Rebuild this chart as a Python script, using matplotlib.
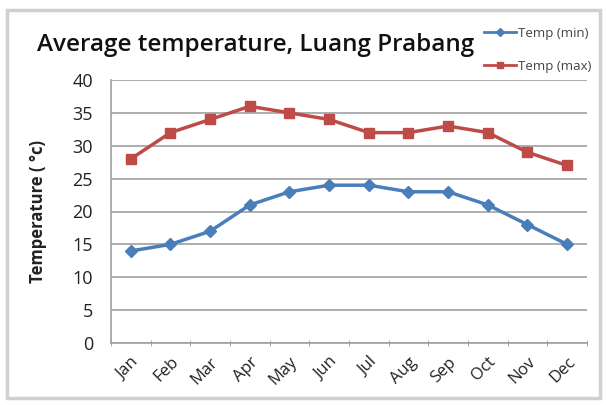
import matplotlib
matplotlib.use("Agg")
import matplotlib.pyplot as plt
from matplotlib.patches import Rectangle
from matplotlib.lines import Line2D

months = ["Jan", "Feb", "Mar", "Apr", "May", "Jun", "Jul", "Aug", "Sep", "Oct", "Nov", "Dec"]
temp_min = [14, 15, 17, 21, 23, 24, 24, 23, 23, 21, 18, 15]
temp_max = [28, 32, 34, 36, 35, 34, 32, 32, 33, 32, 29, 27]
yticks = [0, 5, 10, 15, 20, 25, 30, 35, 40]

plt.rcParams['font.family'] = ['Open Sans', 'DejaVu Sans']

fig = plt.figure(figsize=(6.06, 4.05), dpi=100)
fig.patch.set_facecolor("white")

# outer chart border
fig.patches.append(Rectangle((7/606, 1-398/405), (600-7)/606, (398-10)/405,
                             transform=fig.transFigure, fill=False,
                             edgecolor="#d0d0d0", linewidth=2.5))

ax = fig.add_axes([111/606, 1-343/405, (587-111)/606, (343-80)/405])
x = list(range(len(months)))
blue = "#4a7ebb"
red = "#be4b48"
ax.plot(x, temp_min, color=blue, lw=2.5, marker="D", ms=6, label="Temp (min)", zorder=3)
ax.plot(x, temp_max, color=red, lw=2.5, marker="s", ms=7.5, label="Temp (max)", zorder=3)

ax.set_xlim(-0.5, len(months) - 0.5)
ax.set_ylim(0, 40)
ax.set_yticks(yticks)
ax.set_yticklabels([str(v) for v in yticks], fontsize=13, color="#222222")
ax.set_xticks(x)
ax.set_xticklabels(months, rotation=45, ha="right", rotation_mode="anchor", fontsize=12, color="#222222")
ax.tick_params(axis="x", which="major", length=0, pad=8)
ax.set_xticks([i - 0.5 for i in range(len(months) + 1)], minor=True)
ax.tick_params(axis="x", which="minor", length=5, color="#999999", direction="inout")
ax.tick_params(axis="y", length=0, pad=13)

ax.grid(axis="y", color="#a0a0a0", lw=1.2)
ax.set_axisbelow(True)
for s in ["top", "right"]:
    ax.spines[s].set_visible(False)
for s in ["left", "bottom"]:
    ax.spines[s].set_color("#a0a0a0")
    ax.spines[s].set_linewidth(1.2)

ax.set_ylabel("Temperature ( °c)", fontsize=12, fontweight="bold", color="#222222", labelpad=18)

fig.text(37/606, 1-45/405, "Average temperature, Luang Prabang", fontsize=17.5,
         fontweight="semibold", va="center", ha="left", color="#111111")

handles = [Line2D([], [], color=blue, lw=2, marker="D", ms=4),
           Line2D([], [], color=red, lw=2, marker="s", ms=4)]
fig.legend(handles, ["Temp (min)", "Temp (max)"], loc="upper left",
           bbox_to_anchor=(472/606, 1-15/405), frameon=False, fontsize=9.5,
           handlelength=2.4, handletextpad=0.15, labelspacing=1.5, labelcolor="#444444")

fig.savefig("out.png", dpi=100)
